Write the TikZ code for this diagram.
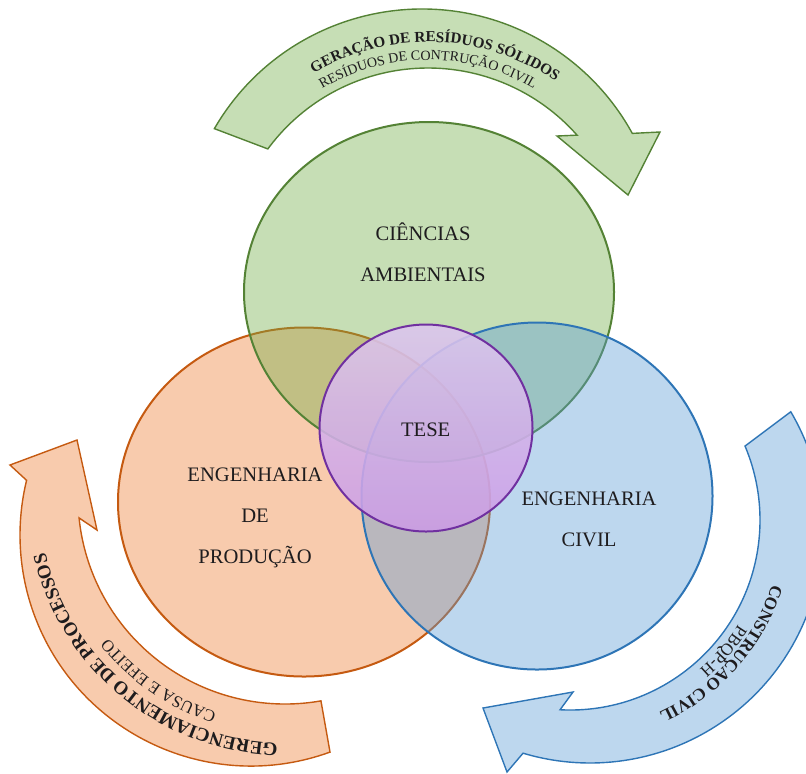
\documentclass[tikz,border=0pt]{standalone}
\usepackage{fontspec}
\setmainfont{Liberation Serif}
\usetikzlibrary{calc, decorations.text}

\definecolor{verde}{RGB}{112,173,71}
\definecolor{verdeborda}{RGB}{84,130,53}
\definecolor{laranja}{RGB}{237,125,49}
\definecolor{laranjaborda}{RGB}{197,90,17}
\definecolor{azul}{RGB}{91,155,213}
\definecolor{azulborda}{RGB}{46,117,182}
\definecolor{roxoborda}{RGB}{112,48,160}
\definecolor{roxoclaro}{RGB}{220,198,238}
\definecolor{roxoescuro}{RGB}{204,156,230}
\definecolor{texto}{RGB}{30,28,30}

\begin{document}
\begin{tikzpicture}[x=0.5pt, y=-0.5pt,
        area/.style={line width=1pt, fill opacity=0.4},
        seta/.style={line width=0.7pt},
        rotulo/.style={font=\fontsize{10.3}{20.5}\selectfont, text=texto, align=center, anchor=base}]

        \useasboundingbox (0,0) rectangle (806,773);
        \clip (0,0) rectangle (806,773);

        % centres of the circles
        \coordinate (amb)  at (429,292);
        \coordinate (prod) at (304,502);
        \coordinate (civ)  at (537,496);
        \coordinate (tese) at (426,428);

        % centres of the arrow arcs (outer edge / inner edge)
        \coordinate (go) at (422,249);
        \coordinate (gi) at (428,267);
        \coordinate (oo) at (251,535);
        \coordinate (oi) at (285,497);
        \coordinate (bo) at (590,530);
        \coordinate (bi) at (570,520);

        % arrow on top
        \filldraw[seta, draw=verdeborda, fill=verde!40]
            ($(go)+(-149.9:240)$) arc[start angle=-149.9, end angle=-28.8, radius=240]
            -- (660,132) -- (628,195) -- (557,136)
            -- ($(gi)+(-41.5:199)$) arc[start angle=-41.5, end angle=-143.6, radius=199] -- cycle;

        % arrow on the left
        \filldraw[seta, draw=laranjaborda, fill=laranja!40]
            ($(oo)+(70:231)$) arc[start angle=70, end angle=193.7, radius=231]
            -- (10,465) -- (77,440) -- (97,530)
            -- ($(oi)+(174.2:207)$) arc[start angle=174.2, end angle=80, radius=207] -- cycle;

        % arrow on the right
        \filldraw[seta, draw=azulborda, fill=azul!40]
            ($(bo)+(-30.5:233)$) arc[start angle=-30.5, end angle=106.7, radius=233]
            -- (507,772) -- (483,708) -- (573,692)
            -- ($(bi)+(93:190)$) arc[start angle=93, end angle=-22.9, radius=190] -- cycle;

        % text along the arrows
        \path[decorate, decoration={text along path, text align=center,
            text={|\color{texto}\fontsize{7.6}{9}\selectfont\bfseries|GERAÇÃO DE RESÍDUOS SÓLIDOS}}]
            ($(gi)+(-148:225)$) arc[start angle=-148, end angle=-28, radius=225];
        \path[decorate, decoration={text along path, text align=center,
            text={|\color{texto}\fontsize{7}{9}\selectfont|RESÍDUOS DE CONTRUÇÃO CIVIL}}]
            ($(gi)+(-150:207)$) arc[start angle=-150, end angle=-30, radius=207];

        \path[decorate, decoration={text along path, text align=center,
            text={|\color{texto}\fontsize{9.5}{11}\selectfont\bfseries|GERENCIAMENTO DE PROCESSOS}}]
            ($(oi)+(74:246)$) arc[start angle=74, end angle=184.6, radius=246];
        \path[decorate, decoration={text along path, text align=center,
            text={|\color{texto}\fontsize{8.4}{10}\selectfont|CAUSA E EFEITO}}]
            ($(oi)+(84.5:226)$) arc[start angle=84.5, end angle=164.5, radius=226];

        \path[decorate, decoration={text along path, text align=center,
            text={|\color{texto}\fontsize{8.6}{10}\selectfont\bfseries|CONSTRUÇAO CIVIL}}]
            ($(bi)+(-8.6:212)$) arc[start angle=-8.6, end angle=91.4, radius=212];
        \path[decorate, decoration={text along path, text align=center,
            text={|\color{texto}\fontsize{8.5}{10}\selectfont|PBQP-H}}]
            ($(bi)+(5.5:198)$) arc[start angle=5.5, end angle=75.5, radius=198];

        % the circles
        \draw[area, draw=laranjaborda, fill=laranja] (prod) ellipse[x radius=186, y radius=174.5];
        \draw[area, draw=verdeborda, fill=verde] (amb) ellipse[x radius=185, y radius=170];
        \draw[area, draw=azulborda, fill=azul] (civ) ellipse[x radius=175.5, y radius=173.5];
        \draw[line width=1pt, draw=roxoborda, top color=roxoclaro, bottom color=roxoescuro,
            fill opacity=0.88] (tese) ellipse[x radius=106.5, y radius=103.5];

        % labels (base = baseline of the last line)
        \node[rotulo] (tamb)  at (423,281)     {CIÊNCIAS\\AMBIENTAIS};
        \node[rotulo] (tprod) at (255,563)     {ENGENHARIA\\DE\\PRODUÇÃO};
        \node[rotulo] (tciv)  at (589,546.7)   {ENGENHARIA\\CIVIL};
        \node[rotulo] (ttese) at (425.7,436.7) {TESE};
\end{tikzpicture}
\end{document}
